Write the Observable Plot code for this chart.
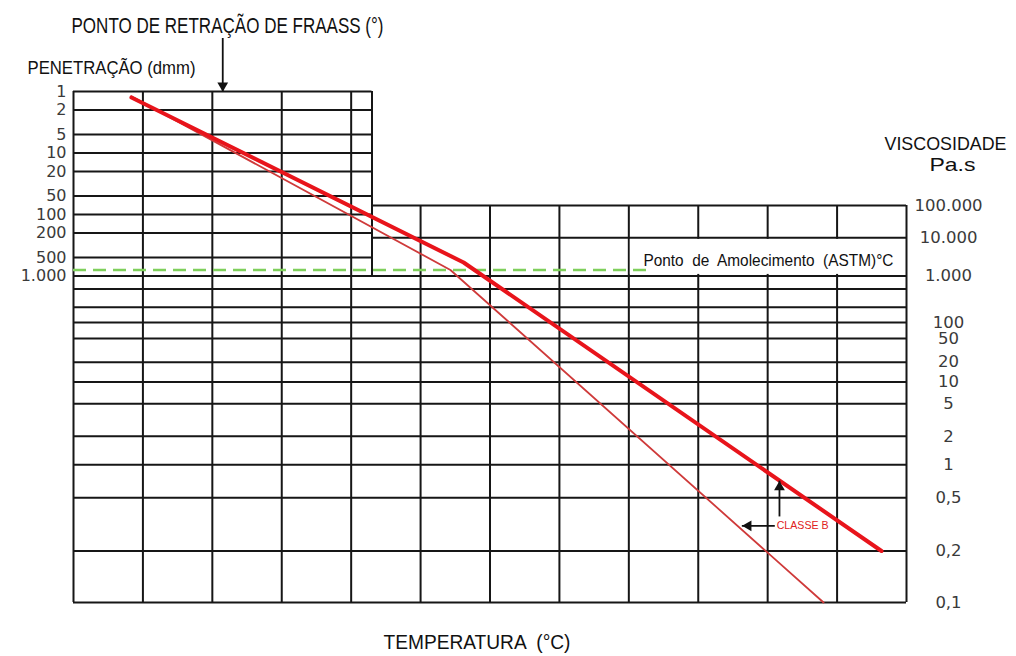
<!DOCTYPE html>
<html>
<head>
<meta charset="utf-8">
<script src="https://cdn.jsdelivr.net/npm/d3@7"></script>
<script src="https://cdn.jsdelivr.net/npm/@observablehq/plot@0.6"></script>
<style>
  html, body { margin: 0; padding: 0; background: #fff; }
  #chart svg { display: block; }
</style>
</head>
<body>
<div id="chart"></div>
<script>
// ---- Data -------------------------------------------------------------

// Temperature grid (°C), one line every 20 °C
const temperatureGrid = [-60, -40, -20, 0, 20, 40, 60, 80, 100, 120, 140, 160, 180];
// Right edge of the penetration panel (°C)
const penPanelEdge = 26;

// Penetration scale (dmm), left axis
const penetrationTicks = [1, 2, 5, 10, 20, 50, 100, 200, 500, 1000];
const penetrationLabels = ["1", "2", "5", "10", "20", "50", "100", "200", "500", "1.000"];

// Viscosity scale (Pa.s), right axis
const viscosityTicks = [100000, 10000, 1000, 500, 200, 100, 50, 20, 10, 5, 2, 1, 0.5, 0.2, 0.1];
const viscosityLabels = ["100.000", "10.000", "1.000", "", "", "100", "50", "20", "10", "5", "2", "1", "0,5", "0,2", "0,1"];

// Class B limit lines: temperature (°C), value, and the scale that value is read on
const upperTemp = [-43.3, 52.4, 172.8];
const upperValue = [1.25, 605, 0.2];
const upperScale = ["pen", "pen", "visc"];

const lowerTemp = [-43.3, 48.6, 156.1];
const lowerValue = [1.2, 800, 0.1];
const lowerScale = ["pen", "pen", "visc"];

// Softening point reference (penetration 800 dmm)
const softeningPen = 800;
const softeningTempRange = [-60, 105.7];

// Fraass breaking point marker (°C)
const fraassTemp = -17;

// "CLASSE B" callout (°C, Pa.s)
const classeTemp = 142.6;
const classeVisc = 0.3;
const upArrowTemp = 143.4, upArrowFrom = 0.35, upArrowTo = 0.7;
const leftArrowVisc = 0.3, leftArrowFrom = 142.2, leftArrowTo = 132.7;

// ---- Vertical scale ----------------------------------------------------
// Viscosity uses a log-log ruling; penetration uses a log ruling whose
// 1.000 dmm line meets the 1.000 Pa.s line.
const VISC_OFFSET = 2.1;
const PEN_DECADE = 0.1254;
const viscLevel = v => Math.log10(Math.log10(v) + VISC_OFFSET);
const penLevel = p => viscLevel(1000) + (3 - Math.log10(p)) * PEN_DECADE;
const level = (s, v) => (s === "pen" ? penLevel(v) : viscLevel(v));

const tMin = temperatureGrid[0];
const tMax = temperatureGrid[temperatureGrid.length - 1];

// Grid rules
const verticals = temperatureGrid.map(t => ({
  t,
  bottom: viscLevel(0.1),
  top: t <= penPanelEdge ? penLevel(1) : viscLevel(100000)
}));
verticals.push({t: penPanelEdge, bottom: penLevel(1000), top: penLevel(1)});

const horizontals = [
  ...penetrationTicks.filter(p => p < 1000).map(p => ({y: penLevel(p), from: tMin, to: penPanelEdge})),
  ...viscosityTicks.map(v => ({
    y: viscLevel(v),
    from: v > 1000 ? penPanelEdge : tMin,
    to: tMax
  }))
];

const upperLine = upperTemp.map((t, i) => ({t, y: level(upperScale[i], upperValue[i])}));
const lowerLine = lowerTemp.map((t, i) => ({t, y: level(lowerScale[i], lowerValue[i])}));

const penAxis = penetrationTicks.map((p, i) => ({y: penLevel(p), label: penetrationLabels[i]}));
const viscAxis = viscosityTicks.map((v, i) => ({y: viscLevel(v), label: viscosityLabels[i]}));

const GRID = "#161616";
const LABEL = "#3a3a3a";
const FONT = "'DejaVu Sans', sans-serif";
const TITLE_FONT = "'Liberation Sans', Arial, sans-serif";

const caption = (text, options) =>
  Plot.text([text], {text: d => d, lineAnchor: "middle", fill: "#111", fontFamily: TITLE_FONT, ...options});

const chart = Plot.plot({
  width: 1016,
  height: 656,
  marginLeft: 73,
  marginRight: 110,
  marginTop: 91,
  marginBottom: 54,
  x: {domain: [tMin, tMax], axis: null},
  y: {domain: [viscLevel(0.1), penLevel(1)], axis: null},
  style: {background: "#fff", fontFamily: FONT},
  marks: [
    // grid
    Plot.ruleX(verticals, {x: "t", y1: "bottom", y2: "top", stroke: GRID, strokeWidth: 2}),
    // blank cell holding the softening-point caption
    Plot.rect([{x1: 100, x2: tMax, y1: viscLevel(10000), y2: viscLevel(1000)}], {
      x1: "x1", x2: "x2", y1: "y1", y2: "y2", fill: "#fff",
      insetLeft: 1.5, insetRight: 1.5, insetTop: 1.5, insetBottom: 1.5
    }),
    Plot.ruleY(horizontals, {y: "y", x1: "from", x2: "to", stroke: GRID, strokeWidth: 2}),

    // softening point
    Plot.ruleY([{y: penLevel(softeningPen), from: softeningTempRange[0], to: softeningTempRange[1]}], {
      y: "y", x1: "from", x2: "to", stroke: "#7fcf5c", strokeWidth: 2.6, strokeDasharray: "13,7"
    }),
    caption("Ponto  de  Amolecimento  (ASTM)°C", {
      x: 104.2, y: (viscLevel(10000) + viscLevel(1000)) / 2, dy: 4,
      textAnchor: "start", fontSize: 17
    }),

    // class B limits
    Plot.line(lowerLine, {x: "t", y: "y", stroke: "#cf3a3a", strokeWidth: 1.8}),
    Plot.line(upperLine, {x: "t", y: "y", stroke: "#e8141b", strokeWidth: 4}),

    // Fraass arrow
    Plot.ruleX([fraassTemp], {x: d => d, y1: penLevel(1), y2: penLevel(1), insetTop: -53, stroke: "#111", strokeWidth: 1.8}),
    Plot.dot([fraassTemp], {x: d => d, y: penLevel(1), symbol: "triangle", r: 4, fill: "#111", rotate: 180, dy: -6}),

    // CLASSE B callout
    Plot.ruleX([upArrowTemp], {x: d => d, y1: viscLevel(upArrowFrom), y2: viscLevel(upArrowTo), stroke: "#111", strokeWidth: 1.8}),
    Plot.dot([upArrowTemp], {x: d => d, y: viscLevel(upArrowTo), symbol: "triangle", r: 4, fill: "#111", dy: 6}),
    Plot.ruleY([leftArrowVisc], {y: viscLevel, x1: leftArrowFrom, x2: leftArrowTo, stroke: "#111", strokeWidth: 1.8}),
    Plot.dot([leftArrowVisc], {x: leftArrowTo, y: viscLevel, symbol: "triangle", r: 4, fill: "#111", rotate: -90, dx: 6}),
    caption("CLASSE B", {x: classeTemp, y: viscLevel(classeVisc), textAnchor: "start", fontSize: 11, fill: "#e02020"}),

    // axis labels
    Plot.text(penAxis, {y: "y", text: "label", frameAnchor: "left", textAnchor: "end", dx: -7,
      fontSize: 16, fill: LABEL}),
    Plot.text(viscAxis, {y: "y", text: "label", frameAnchor: "right", textAnchor: "middle", dx: 42,
      fontSize: 16.5, fill: LABEL}),

    // titles
    caption("PONTO DE RETRAÇÃO DE FRAASS (°)", {frameAnchor: "top-left", textAnchor: "start",
      dx: -2, dy: -66, fontSize: 22}),
    caption("PENETRAÇÃO (dmm)", {frameAnchor: "top-left", textAnchor: "start",
      dx: -46, dy: -24, fontSize: 19}),
    caption("VISCOSIDADE", {frameAnchor: "top-right", textAnchor: "middle",
      dx: 39, dy: 52, fontSize: 19}),
    caption("Pa.s", {frameAnchor: "top-right", textAnchor: "middle",
      dx: 46, dy: 73, fontSize: 19}),
    caption("TEMPERATURA  (°C)", {frameAnchor: "bottom", textAnchor: "middle",
      dx: -13, dy: 40, fontSize: 20})
  ]
});

// Condensed lettering for the drawing's captions
const captionWidths = {
  "PONTO DE RETRAÇÃO DE FRAASS (°)": 312,
  "PENETRAÇÃO (dmm)": 168,
  "VISCOSIDADE": 122,
  "Pa.s": 46,
  "TEMPERATURA  (°C)": 187,
  "Ponto  de  Amolecimento  (ASTM)°C": 250,
  "CLASSE B": 52
};
d3.select(chart).selectAll("text").each(function () {
  const w = captionWidths[this.textContent];
  if (w) {
    this.setAttribute("textLength", w);
    this.setAttribute("lengthAdjust", "spacingAndGlyphs");
  }
});

document.getElementById("chart").append(chart);
</script>
</body>
</html>
